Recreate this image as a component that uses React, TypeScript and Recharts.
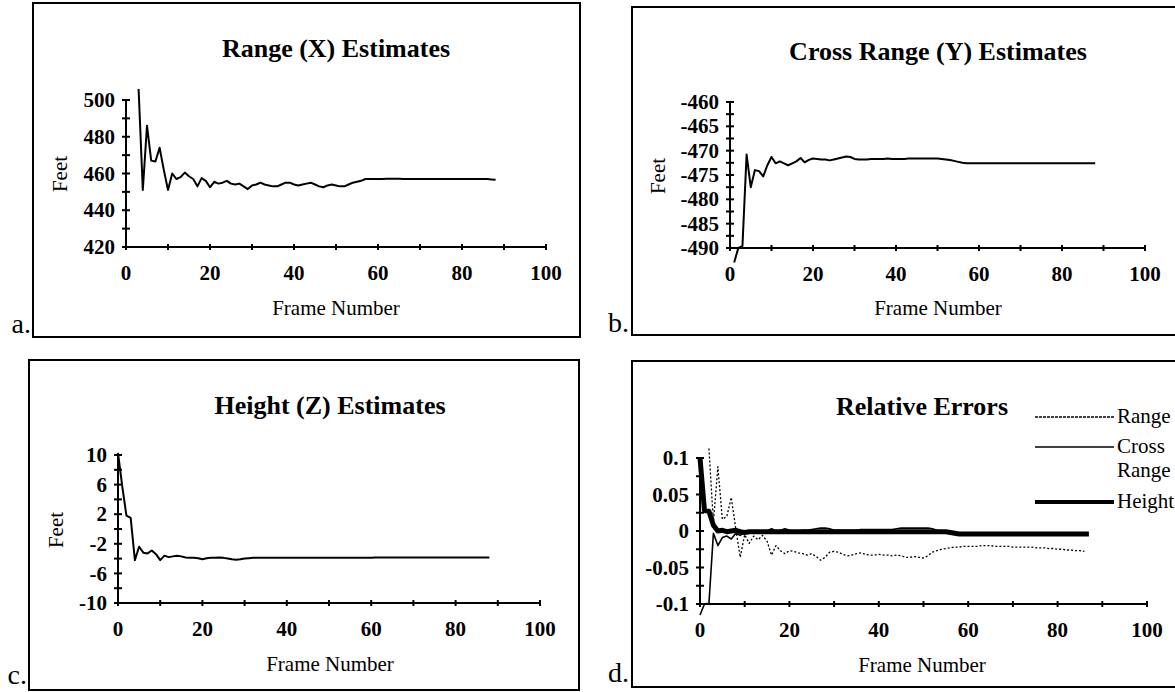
import React from 'react';
import { LineChart, Line, XAxis, YAxis, ReferenceLine } from 'recharts';

// ---------- data ----------
const frameNumbers = [0,1,2,3,4,5,6,7,8,9,10,11,12,13,14,15,16,17,18,19,20,21,22,23,24,25,26,27,28,29,30,31,32,33,34,35,36,37,38,39,40,41,42,43,44,45,46,47,48,49,50,51,52,53,54,55,56,57,58,59,60,61,62,63,64,65,66,67,68,69,70,71,72,73,74,75,76,77,78,79,80,81,82,83,84,85,86,87,88];

// Range (X) estimates, feet
const rangeX = [null,null,null,
  506,451,486,467,466.5,474,462,451,
  460,457,458,460.5,458.5,457,453,457.5,456,452.5,
  455.5,454.5,455,456,454.5,454,454.5,453,451.5,453.5,
  454,455,454,453.5,453,453,454,455,455,454,
  453.5,454,454.5,455,454,453,452.5,453.5,454,453.5,
  453,453,454,455,455.5,456,457,457,457,457,
  457,457.2,457.2,457.2,457.2,457,457,457,457,457,
  457,457,457,457,457,457,457,457,457,457,
  457,457,457,457,457,457,456.8,456.6];

// Cross Range (Y) estimates, feet
const crossRangeY = [null,
  -493,-490,-489.6,-470.8,-477.5,-474,-474.2,-475.3,-473,-471.3,
  -472.6,-472.2,-472.6,-473,-472.6,-472.2,-471.5,-472.4,-471.9,-471.6,
  -471.7,-471.8,-471.8,-472,-471.8,-471.6,-471.4,-471.2,-471.3,-471.7,
  -471.8,-471.8,-471.8,-471.7,-471.7,-471.7,-471.7,-471.6,-471.7,-471.7,
  -471.7,-471.7,-471.6,-471.6,-471.6,-471.6,-471.6,-471.6,-471.6,-471.6,
  -471.7,-471.8,-471.9,-472.1,-472.3,-472.5,-472.6,-472.6,-472.6,-472.6,
  -472.6,-472.6,-472.6,-472.6,-472.6,-472.6,-472.6,-472.6,-472.6,-472.6,
  -472.6,-472.6,-472.6,-472.6,-472.6,-472.6,-472.6,-472.6,-472.6,-472.6,
  -472.6,-472.6,-472.6,-472.6,-472.6,-472.6,-472.6,-472.6];

// Height (Z) estimates, feet
const heightZ = [
  10.3,5.8,1.8,1.5,-4.2,-2.4,-3.2,-3.3,-2.9,-3.4,-4.2,
  -3.6,-3.8,-3.7,-3.6,-3.7,-3.85,-3.9,-3.9,-3.95,-4.1,
  -3.95,-3.9,-3.9,-3.85,-3.9,-4,-4.1,-4.15,-4.1,-4,
  -3.95,-3.9,-3.9,-3.9,-3.9,-3.9,-3.9,-3.9,-3.9,-3.9,
  -3.9,-3.9,-3.9,-3.9,-3.9,-3.9,-3.9,-3.9,-3.9,-3.9,
  -3.9,-3.9,-3.9,-3.9,-3.9,-3.9,-3.9,-3.9,-3.9,-3.9,
  -3.85,-3.85,-3.85,-3.85,-3.85,-3.85,-3.85,-3.85,-3.85,-3.85,
  -3.85,-3.85,-3.85,-3.85,-3.85,-3.85,-3.85,-3.85,-3.85,-3.85,
  -3.85,-3.85,-3.85,-3.85,-3.85,-3.85,-3.85,-3.85];

// Relative errors
const relErrRange = [null,null,
  0.113,0.012,0.088,0.016,0.02,0.046,0.003,-0.036,-0.005,
  -0.017,-0.007,-0.012,-0.006,-0.014,-0.033,-0.02,-0.027,-0.031,-0.027,
  -0.028,-0.03,-0.031,-0.033,-0.031,-0.035,-0.04,-0.036,-0.029,-0.028,
  -0.029,-0.032,-0.034,-0.033,-0.031,-0.03,-0.032,-0.033,-0.033,-0.032,
  -0.033,-0.033,-0.034,-0.033,-0.034,-0.036,-0.036,-0.035,-0.036,-0.037,
  -0.034,-0.029,-0.027,-0.025,-0.024,-0.023,-0.022,-0.022,-0.021,-0.021,
  -0.021,-0.021,-0.02,-0.02,-0.02,-0.021,-0.021,-0.021,-0.021,-0.022,
  -0.022,-0.022,-0.022,-0.022,-0.023,-0.023,-0.023,-0.024,-0.024,-0.025,
  -0.025,-0.026,-0.026,-0.027,-0.027,-0.028,null,null];

const relErrCross = [
  -0.115,-0.1,-0.099,-0.003,-0.02,-0.009,-0.007,-0.011,-0.003,-0.006,-0.002,
  -0.003,-0.002,-0.002,-0.003,0,0.003,0,0.001,0.003,0.001,
  0,0,0.001,0.001,0.002,0.003,0.004,0.004,0.003,0.001,
  0.001,0.001,0.001,0.001,0.001,0.002,0.002,0.002,0.002,0.002,
  0.002,0.002,0.002,0.003,0.004,0.004,0.004,0.004,0.004,0.004,
  0.004,0.003,0.001,-0.001,-0.002,-0.003,-0.003,-0.003,-0.003,-0.003,
  -0.003,-0.003,-0.003,-0.003,-0.003,-0.003,-0.003,-0.003,-0.003,-0.003,
  -0.003,-0.003,-0.003,-0.003,-0.003,-0.003,-0.003,-0.003,-0.003,-0.003,
  -0.003,-0.003,-0.003,-0.003,-0.003,-0.003,null,null];

const relErrHeight = [
  0.1,0.028,0.027,0.008,0,0.001,-0.001,0,0.001,-0.001,-0.002,
  -0.001,-0.001,-0.001,-0.001,-0.001,-0.001,-0.001,-0.001,-0.001,-0.001,
  -0.001,-0.001,-0.001,-0.001,-0.001,-0.001,-0.001,-0.001,-0.001,-0.001,
  -0.001,-0.001,-0.001,-0.001,-0.001,-0.001,-0.001,-0.001,-0.001,-0.001,
  -0.001,-0.001,-0.001,-0.001,-0.001,-0.001,-0.001,-0.001,-0.001,-0.001,
  -0.001,-0.001,-0.001,-0.001,-0.001,-0.002,-0.003,-0.004,-0.004,-0.004,
  -0.004,-0.004,-0.004,-0.004,-0.004,-0.004,-0.004,-0.004,-0.004,-0.004,
  -0.004,-0.004,-0.004,-0.004,-0.004,-0.004,-0.004,-0.004,-0.004,-0.004,
  -0.004,-0.004,-0.004,-0.004,-0.004,-0.004,-0.004,null];

// Axis ticks and labels
const xTicks = [0,10,20,30,40,50,60,70,80,90,100];
const xTickLabels = [0,20,40,60,80,100];
const rangeYTicks = [420,430,440,450,460,470,480,490,500];
const rangeYLabels = [420,440,460,480,500];
const crossYTicks = [-490,-487.5,-485,-482.5,-480,-477.5,-475,-472.5,-470,-467.5,-465,-462.5,-460];
const crossYLabels = [-490,-485,-480,-475,-470,-465,-460];
const heightYTicks = [-10,-8,-6,-4,-2,0,2,4,6,8,10];
const heightYLabels = [-10,-6,-2,2,6,10];
const errYTicks = [-0.1,-0.075,-0.05,-0.025,0,0.025,0.05,0.075,0.1];
const errYLabels = [-0.1,-0.05,0,0.05,0.1];

const rows = frameNumbers.map((f, i) => ({
  frame: f,
  rangeX: rangeX[i],
  crossRangeY: crossRangeY[i],
  heightZ: heightZ[i],
  relErrRange: relErrRange[i],
  relErrCross: relErrCross[i],
  relErrHeight: relErrHeight[i],
}));

// ---------- layout ----------
const W = 1175;
const H = 692;
const FONT = "'Liberation Serif', 'Times New Roman', Times, serif";

type SeriesDef = { key: string; name: string; width: number; dash?: string };
type PanelDef = {
  id: string;
  xLeft: number; xRight: number;
  yTopPx: number; yBotPx: number;
  nomLo: number; nomHi: number;
  domLo: number; domHi: number;
  yTicks: number[]; yLabels: number[];
  series: SeriesDef[];
};

const panels: PanelDef[] = [
  { id: 'a', xLeft: 126, xRight: 546, yTopPx: 100, yBotPx: 247, nomLo: 420, nomHi: 500, domLo: 420, domHi: 507,
    yTicks: rangeYTicks, yLabels: rangeYLabels, series: [{ key: 'rangeX', name: 'Range', width: 2 }] },
  { id: 'b', xLeft: 730, xRight: 1145, yTopPx: 102, yBotPx: 248, nomLo: -490, nomHi: -460, domLo: -493.5, domHi: -460,
    yTicks: crossYTicks, yLabels: crossYLabels, series: [{ key: 'crossRangeY', name: 'Cross Range', width: 2 }] },
  { id: 'c', xLeft: 118, xRight: 540, yTopPx: 455, yBotPx: 603, nomLo: -10, nomHi: 10, domLo: -10, domHi: 10.6,
    yTicks: heightYTicks, yLabels: heightYLabels, series: [{ key: 'heightZ', name: 'Height', width: 2 }] },
  { id: 'd', xLeft: 700, xRight: 1147, yTopPx: 458, yBotPx: 604, nomLo: -0.1, nomHi: 0.1, domLo: -0.118, domHi: 0.116,
    yTicks: errYTicks, yLabels: errYLabels, series: [
      { key: 'relErrHeight', name: 'Height', width: 5 },
      { key: 'relErrCross', name: 'Cross Range', width: 1.6 },
      { key: 'relErrRange', name: 'Range', width: 1.3, dash: '2 2' },
    ] },
];

function XTick(props: any) {
  const { x, y, payload, off } = props;
  const ay = y - off;
  const v = payload.value;
  return (
    <g>
      <line x1={x} x2={x} y1={ay - 3} y2={ay + 3} stroke="#000" strokeWidth={2} />
      {xTickLabels.includes(v) && (
        <text x={x} y={ay + 33} textAnchor="middle" fontFamily={FONT} fontSize={21} fontWeight="bold" fill="#000">
          {String(v)}
        </text>
      )}
    </g>
  );
}

function YTick(props: any) {
  const { x, y, payload, labels } = props;
  const v = payload.value;
  return (
    <g>
      <line x1={x - 4} x2={x + 4} y1={y} y2={y} stroke="#000" strokeWidth={2} />
      {labels.includes(v) && (
        <text x={x - 11} y={y} dy="0.34em" textAnchor="end" fontFamily={FONT} fontSize={21} fontWeight="bold" fill="#000">
          {String(v)}
        </text>
      )}
    </g>
  );
}

function Panel({ p }: { p: PanelDef }) {
  const k = (p.yBotPx - p.yTopPx) / (p.nomHi - p.nomLo);
  const plotTop = p.yBotPx - (p.domHi - p.nomLo) * k;
  const plotBottom = p.yBotPx + (p.nomLo - p.domLo) * k;
  const off = plotBottom - p.yBotPx;
  const YW = 60;
  const XH = 40;
  const margin = { top: plotTop, left: p.xLeft - YW, right: W - p.xRight, bottom: H - plotBottom - XH };
  return (
    <div style={{ position: 'absolute', left: 0, top: 0, width: W, height: H }}>
      <LineChart width={W} height={H} data={rows} margin={margin}>
        <XAxis dataKey="frame" type="number" domain={[0, 100]} ticks={xTicks} interval={0}
          axisLine={false} tickLine={false} tickSize={0} tickMargin={0} height={XH}
          tick={(tp: any) => <XTick {...tp} off={off} />} />
        <YAxis type="number" domain={[p.domLo, p.domHi]} ticks={p.yTicks} interval={0}
          axisLine={false} tickLine={false} tickSize={0} tickMargin={0} width={YW}
          tick={(tp: any) => <YTick {...tp} labels={p.yLabels} />} />
        <ReferenceLine segment={[{ x: 0, y: p.nomLo }, { x: 0, y: p.nomHi }]} stroke="#000" strokeWidth={2} />
        <ReferenceLine segment={[{ x: 0, y: p.nomLo }, { x: 100, y: p.nomLo }]} stroke="#000" strokeWidth={2} />
        {p.series.map((s) => (
          <Line key={s.key} dataKey={s.key} name={s.name} type="linear" stroke="#000" strokeWidth={s.width}
            strokeDasharray={s.dash} dot={false} activeDot={false} isAnimationActive={false}
            strokeLinejoin="round" />
        ))}
      </LineChart>
    </div>
  );
}

const titles = [
  { text: 'Range (X) Estimates', x: 336, y: 57 },
  { text: 'Cross Range (Y) Estimates', x: 938, y: 60 },
  { text: 'Height (Z) Estimates', x: 330, y: 414 },
  { text: 'Relative Errors', x: 922, y: 415 },
];
const frameLabels = [
  { x: 336, y: 315 }, { x: 938, y: 315 }, { x: 330, y: 671 }, { x: 922, y: 672 },
];
const feetLabels = [
  { x: 60, y: 174 }, { x: 658, y: 176 }, { x: 56, y: 530 },
];
const panelLetters = [
  { text: 'a.', x: 31, y: 333 }, { text: 'b.', x: 629, y: 332 },
  { text: 'c.', x: 27, y: 684 }, { text: 'd.', x: 629, y: 682 },
];
const borders = [
  { x: 33, y: 3, w: 547, h: 334 },
  { x: 632, y: 7, w: 560, h: 328 },
  { x: 29, y: 360, w: 550, h: 330 },
  { x: 632, y: 361, w: 560, h: 326 },
];
const legendRows = [
  { key: 'relErrRange', lineY: 417, texts: [{ t: 'Range', y: 423 }] },
  { key: 'relErrCross', lineY: 447, texts: [{ t: 'Cross', y: 453 }, { t: 'Range', y: 477 }] },
  { key: 'relErrHeight', lineY: 502, texts: [{ t: 'Height', y: 508 }] },
];

function Overlay() {
  const dSeries = panels[3].series;
  return (
    <svg width={W} height={H} style={{ position: 'absolute', left: 0, top: 0, pointerEvents: 'none' }}>
      {borders.map((b, i) => (
        <rect key={i} x={b.x} y={b.y} width={b.w} height={b.h} fill="none" stroke="#000" strokeWidth={2} />
      ))}
      {titles.map((t, i) => (
        <text key={i} x={t.x} y={t.y} textAnchor="middle" fontFamily={FONT} fontSize={26} fontWeight="bold" fill="#000">{t.text}</text>
      ))}
      {frameLabels.map((f, i) => (
        <text key={i} x={f.x} y={f.y} textAnchor="middle" fontFamily={FONT} fontSize={21} fill="#000">Frame Number</text>
      ))}
      {feetLabels.map((f, i) => (
        <text key={i} x={f.x} y={f.y} textAnchor="middle" dominantBaseline="central" fontFamily={FONT} fontSize={21}
          fill="#000" transform={`rotate(-90 ${f.x} ${f.y})`}>Feet</text>
      ))}
      {panelLetters.map((l, i) => (
        <text key={i} x={l.x} y={l.y} textAnchor="end" fontFamily={FONT} fontSize={28} fill="#000">{l.text}</text>
      ))}
      {legendRows.map((r) => {
        const s = dSeries.find((q) => q.key === r.key)!;
        return (
          <g key={r.key}>
            <line x1={1035} x2={1114} y1={r.lineY} y2={r.lineY} stroke="#000"
              strokeWidth={s.width === 5 ? 4 : s.width} strokeDasharray={s.dash ? '3 1' : undefined} />
            {r.texts.map((t, j) => (
              <text key={j} x={1117} y={t.y} fontFamily={FONT} fontSize={21} fill="#000">{t.t}</text>
            ))}
          </g>
        );
      })}
    </svg>
  );
}

export default function App() {
  return (
    <div style={{ position: 'absolute', left: 0, top: 0, width: W, height: H, overflow: 'hidden', background: '#fff' }}>
      {panels.map((p) => (
        <Panel key={p.id} p={p} />
      ))}
      <Overlay />
    </div>
  );
}
